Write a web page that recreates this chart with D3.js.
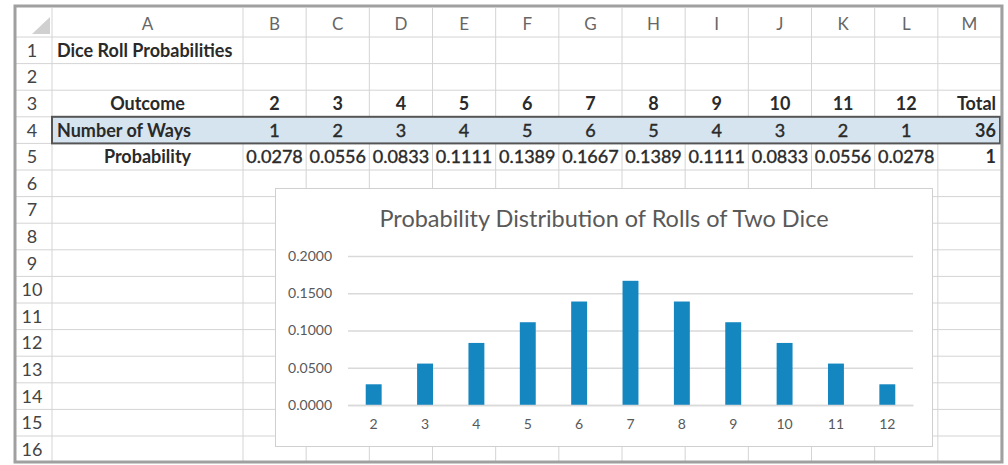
<!DOCTYPE html>
<html>
<head>
<meta charset="utf-8">
<script src="https://cdn.jsdelivr.net/npm/d3@7"></script>
<style>
  body { margin: 0; background: #fff; }
  svg { display: block; font-family: Lato, "Open Sans", sans-serif; }
</style>
</head>
<body>
<svg id="sheet" width="1008" height="465"></svg>
<script>
const colLetters = ["B", "C", "D", "E", "F", "G", "H", "I", "J", "K", "L", "M"];
const outcomes = [2, 3, 4, 5, 6, 7, 8, 9, 10, 11, 12];
const ways = [1, 2, 3, 4, 5, 6, 5, 4, 3, 2, 1];
const probs = [0.0278, 0.0556, 0.0833, 0.1111, 0.1389, 0.1667, 0.1389, 0.1111, 0.0833, 0.0556, 0.0278];
const totalWays = 36;
const totalProb = 1;
const yTicks = [0, 0.05, 0.1, 0.15, 0.2];
const rowNums = d3.range(1, 17);
const chartTitle = "Probability Distribution of Rolls of Two Dice";

const svg = d3.select("#sheet");
const gridColor = "#d4d4d4";
const textColor = "#2a2a2a";

// sheet geometry
const headTop = 8, headBottom = 37, rowH = 26.6;
const rowNumLeft = 14, colALeft = 52, colBLeft = 243, sheetRight = 1001;
const colX = d3.scaleBand().domain(colLetters).range([colBLeft, sheetRight]);
const rowY = r => headBottom + (r - 1) * rowH;

const grid = svg.append("g");
// vertical gridlines
[colALeft, colBLeft, ...colLetters.map(c => colX(c) + colX.bandwidth())].forEach(x => {
  grid.append("line").attr("x1", x).attr("x2", x).attr("y1", headTop).attr("y2", 463)
    .attr("stroke", gridColor).attr("stroke-width", 1);
});
// horizontal gridlines
[headBottom, ...rowNums.map(r => rowY(r) + rowH)].forEach(y => {
  grid.append("line").attr("x1", rowNumLeft).attr("x2", sheetRight).attr("y1", y).attr("y2", y)
    .attr("stroke", gridColor).attr("stroke-width", 1);
});

// corner triangle
grid.append("path").attr("d", "M32,34L50,34L50,17Z").attr("fill", "#d0d0d0");

// column headers
const headers = svg.append("g").attr("font-size", 17).attr("text-anchor", "middle");
headers.append("text").attr("x", (colALeft + colBLeft) / 2).attr("y", headBottom - 7).attr("fill", "#666").text("A");
colLetters.forEach(c => headers.append("text").attr("x", colX(c) + colX.bandwidth() / 2).attr("y", headBottom - 7).attr("fill", "#666").text(c));
rowNums.forEach(r => headers.append("text").attr("x", 32).attr("y", rowY(r) + rowH / 2 + 6.5).attr("fill", "#444").attr("font-size", 18).text(r));

// row 4 highlight
svg.append("rect").attr("x", colALeft).attr("y", rowY(4)).attr("width", sheetRight - colALeft - 1).attr("height", rowH)
  .attr("fill", "#d5e4ef").attr("stroke", "#555").attr("stroke-width", 2);

// cell text
const cells = svg.append("g").attr("fill", textColor).attr("font-size", 18);
const base = r => rowY(r) + rowH / 2 + 6.5;
const midA = (colALeft + colBLeft) / 2;
const cx = i => colX(colLetters[i]) + colX.bandwidth() / 2;
const rx = colX("M") + colX.bandwidth() - 5;

cells.append("text").attr("x", 57).attr("y", base(1)).attr("font-weight", "bold").text("Dice Roll Probabilities");
cells.append("text").attr("x", midA).attr("y", base(3)).attr("font-weight", "bold").attr("text-anchor", "middle").text("Outcome");
cells.append("text").attr("x", 57).attr("y", base(4)).attr("font-weight", "bold").text("Number of Ways");
cells.append("text").attr("x", midA).attr("y", base(5)).attr("font-weight", "bold").attr("text-anchor", "middle").text("Probability");

outcomes.forEach((o, i) => {
  cells.append("text").attr("x", cx(i)).attr("y", base(3)).attr("font-weight", "bold").attr("text-anchor", "middle").text(o);
  cells.append("text").attr("x", cx(i)).attr("y", base(4)).attr("text-anchor", "middle")
    .attr("stroke", textColor).attr("stroke-width", 0.4).text(ways[i]);
  cells.append("text").attr("x", cx(i)).attr("y", base(5)).attr("text-anchor", "middle")
    .attr("stroke", textColor).attr("stroke-width", 0.4).text(probs[i].toFixed(4));
});
cells.append("text").attr("x", rx).attr("y", base(3)).attr("font-weight", "bold").attr("text-anchor", "end").text("Total");
cells.append("text").attr("x", rx).attr("y", base(4)).attr("font-weight", "bold").attr("text-anchor", "end").text(totalWays);
cells.append("text").attr("x", rx).attr("y", base(5)).attr("font-weight", "bold").attr("text-anchor", "end").text(totalProb);

// outer frame
svg.append("rect").attr("x", 15).attr("y", 6).attr("width", 987).attr("height", 456)
  .attr("fill", "none").attr("stroke", "#a0a0a0").attr("stroke-width", 3);

// embedded chart
const chart = svg.append("g");
chart.append("rect").attr("x", 275.5).attr("y", 188.5).attr("width", 657).attr("height", 258)
  .attr("fill", "#fff").attr("stroke", "#d0d0d0").attr("stroke-width", 1);

chart.append("text").attr("x", 604).attr("y", 227).attr("text-anchor", "middle")
  .attr("font-size", 23.5).attr("fill", "#595959").text(chartTitle);

const x = d3.scaleBand().domain(outcomes).range([348, 913]).paddingInner(0.69).paddingOuter(0.345);
const y = d3.scaleLinear().domain([0, 0.2]).range([405, 256]);

const yAxis = chart.append("g").attr("transform", "translate(348,0)")
  .call(d3.axisLeft(y).tickValues(yTicks).tickFormat(d3.format(".4f")).tickSize(-565).tickPadding(16));
yAxis.select(".domain").remove();
yAxis.selectAll(".tick line").attr("stroke", "#d9d9d9").attr("stroke-width", 1.3);
yAxis.selectAll(".tick text").attr("fill", "#595959").attr("font-size", 14).attr("font-family", "Lato, sans-serif");

chart.append("g").selectAll("rect").data(outcomes).join("rect")
  .attr("x", d => x(d)).attr("width", x.bandwidth())
  .attr("y", (d, i) => y(probs[i])).attr("height", (d, i) => y(0) - y(probs[i]))
  .attr("fill", "#1487c0");

const xAxis = chart.append("g").attr("transform", "translate(0,405)")
  .call(d3.axisBottom(x).tickSize(0).tickPadding(14));
xAxis.select(".domain").attr("stroke", "#d9d9d9").attr("stroke-width", 1.3);
xAxis.selectAll(".tick text").attr("fill", "#595959").attr("font-size", 14).attr("font-family", "Lato, sans-serif");
</script>
</body>
</html>
